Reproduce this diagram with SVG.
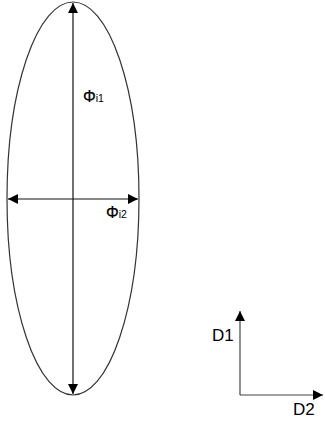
<svg xmlns="http://www.w3.org/2000/svg" width="325" height="422" viewBox="0 0 325 422">
<style>
.ln{stroke:#111;stroke-width:1.2;fill:none}
.ax{stroke:#444;stroke-width:1.2;fill:none}
.t{font-family:'Liberation Sans',Arial,Helvetica,sans-serif;fill:#000}
</style>
<defs>
<marker id="ah" viewBox="0 0 10 10" refX="10" refY="5" markerWidth="10" markerHeight="10" markerUnits="userSpaceOnUse" orient="auto-start-reverse">
<path d="M0,0 L10,5 L0,10 Z" fill="#000"/>
</marker>
</defs>
<rect width="325" height="422" fill="#fff"/>
<g id="ellipse">
<ellipse cx="73" cy="198.5" rx="66" ry="196.5" fill="none" stroke="#333" stroke-width="1.2"/>
</g>
<g id="connectors">
<line class="ln" x1="73" y1="3" x2="73" y2="394" marker-start="url(#ah)" marker-end="url(#ah)"/>
<line class="ln" x1="8" y1="199" x2="138" y2="199" marker-start="url(#ah)" marker-end="url(#ah)"/>
<line class="ax" x1="240" y1="311" x2="240" y2="395" marker-start="url(#ah)"/>
<line class="ax" x1="240" y1="395" x2="323" y2="395" marker-end="url(#ah)"/>
</g>
<g id="label-phi1">
<text class="t" font-family="Liberation Sans, sans-serif" x="83" y="102" font-size="16" stroke="#000" stroke-width="0.2">Φ<tspan font-size="10.5" stroke-width="0">i1</tspan></text>
</g>
<g id="label-phi2">
<text class="t" font-family="Liberation Sans, sans-serif" x="106" y="217.5" font-size="16" stroke="#000" stroke-width="0.2">Φ<tspan font-size="10.5" stroke-width="0">i2</tspan></text>
</g>
<g id="label-d1">
<text class="t" font-family="Liberation Sans, sans-serif" x="212" y="341" font-size="17">D1</text>
</g>
<g id="label-d2">
<text class="t" font-family="Liberation Sans, sans-serif" x="293" y="415" font-size="17">D2</text>
</g>
</svg>
